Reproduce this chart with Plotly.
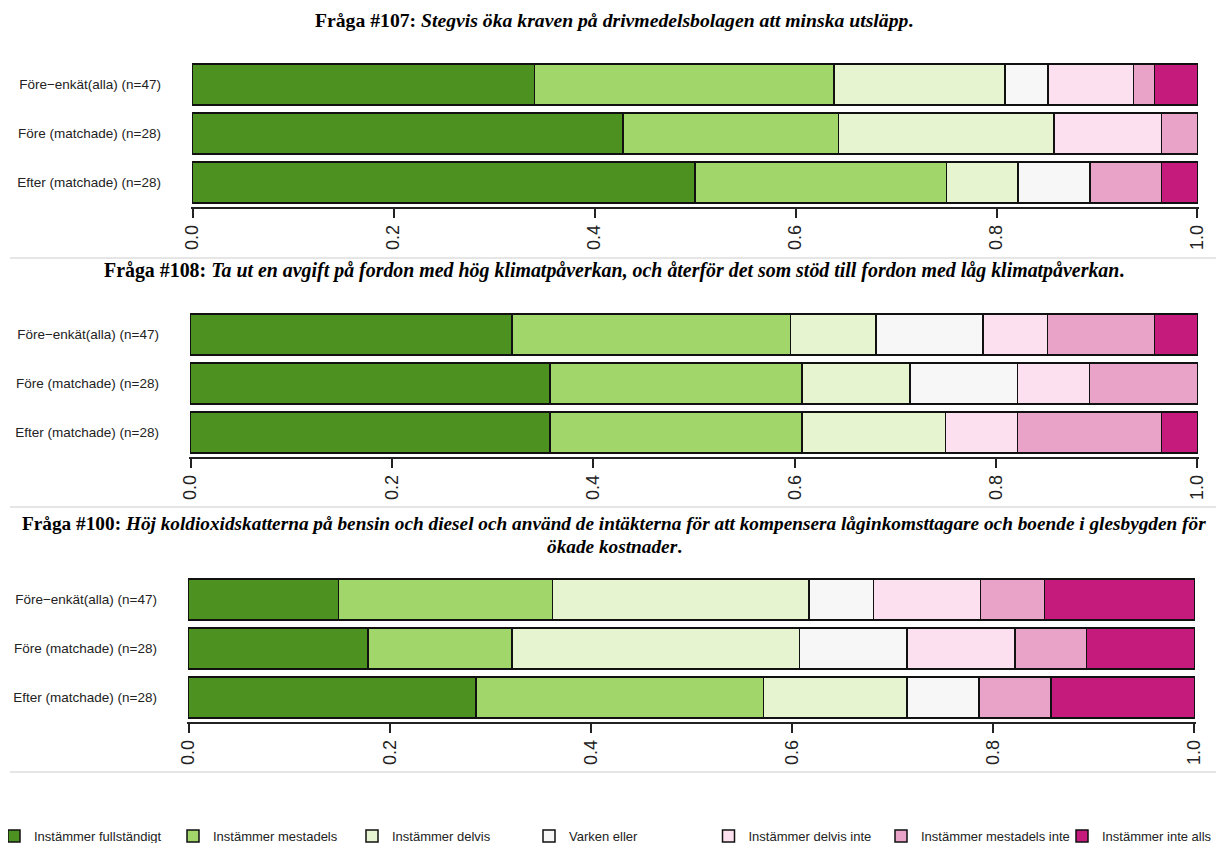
import plotly.graph_objects as go

# ---------------- data ----------------
categories = ["Instämmer fullständigt", "Instämmer mestadels", "Instämmer delvis",
              "Varken eller", "Instämmer delvis inte", "Instämmer mestadels inte",
              "Instämmer inte alls"]
colors = ["#4D9221", "#A1D76A", "#E6F5D0", "#F7F7F7", "#FDE0EF", "#E9A3C9", "#C51B7D"]
groups = ["Före−enkät(alla) (n=47)", "Före (matchade) (n=28)", "Efter (matchade) (n=28)"]
group_n = [47, 28, 28]

# counts per answer category, per group (alla, före, efter)
q107_counts = [[16, 12, 14], [14, 6, 7], [8, 6, 2], [2, 0, 2], [4, 3, 0], [1, 1, 2], [2, 0, 1]]
q108_counts = [[15, 10, 10], [13, 7, 7], [4, 3, 4], [5, 3, 0], [3, 2, 2], [5, 3, 4], [2, 0, 1]]
q100_counts = [[7, 5, 8], [10, 4, 8], [12, 8, 4], [3, 3, 2], [5, 3, 0], [3, 2, 2], [7, 3, 4]]

title_lines = [
    ["<b>Fråga #107: <i>Stegvis öka kraven på drivmedelsbolagen att minska utsläpp</i>.</b>"],
    ["<b>Fråga #108: <i>Ta ut en avgift på fordon med hög klimatpåverkan, och återför det som stöd till fordon med låg klimatpåverkan</i>.</b>"],
    ["<b>Fråga #100: <i>Höj koldioxidskatterna på bensin och diesel och använd de intäkterna för att kompensera låginkomsttagare och boende i glesbygden för</i></b>",
     "<b><i>ökade kostnader</i>.</b>"],
]
xticks = [0.0, 0.2, 0.4, 0.6, 0.8, 1.0]

# ---------------- layout geometry (screen pixels; page body has an 8px margin) ----------------
OFF = 8
FW, FH = 1229 - OFF, 843 - OFF


def fx(px):
    return (px - OFF) / FW


def fy(py):
    return 1 - (py - OFF) / FH


panels = [
    dict(counts=q107_counts, top=60, bottom=207, left=191, right=1199, title_y=[20], tsize=19.7, sep=258),
    dict(counts=q108_counts, top=310, bottom=457, left=189, right=1199, title_y=[270], tsize=19.9, sep=507),
    dict(counts=q100_counts, top=575, bottom=722, left=187, right=1196, title_y=[523, 546], tsize=19.3, sep=772),
]
# legend blocks: (first item index, last item index + 1, left x of first entry, entry width)
legend_blocks = [(0, 3, -14, 134), (3, 5, 521, 134.5), (5, 7, 873, 136)]

fig = go.Figure()
layout = dict(
    width=FW, height=FH, margin=dict(l=0, r=0, t=0, b=0, autoexpand=False),
    plot_bgcolor="white", paper_bgcolor="white", barmode="stack", bargap=0.16,
    showlegend=True,
)
annotations = []
shapes = []


def legend_name(c):
    for k, (a, b, _, _) in enumerate(legend_blocks):
        if a <= c < b:
            return "legend" if k == 0 else f"legend{k + 1}"


for i, p in enumerate(panels):
    ax = "" if i == 0 else str(i + 1)
    for c, cat in enumerate(categories):
        vals = [p["counts"][c][g] / group_n[g] for g in range(len(groups))]
        fig.add_trace(go.Bar(
            x=vals, y=groups, orientation="h", name=cat,
            marker=dict(color=colors[c], line=dict(color="#111111", width=1.5)),
            xaxis="x" + ax, yaxis="y" + ax, showlegend=(i == 0),
            legend=legend_name(c),
        ))
    layout["xaxis" + ax] = dict(
        domain=[fx(p["left"]), fx(p["right"])], range=[-0.0015, 1.0015], anchor="y" + ax,
        tickvals=xticks, ticktext=[f"{v:.1f}" for v in xticks], tickangle=-90,
        showline=True, linecolor="#222222", linewidth=1.5, ticks="outside",
        ticklen=9, tickwidth=1.5, tickcolor="#222222", showgrid=False, zeroline=False,
        automargin=False,
        tickfont=dict(family="Liberation Sans, Arial", size=18, color="#222222"),
    )
    layout["yaxis" + ax] = dict(
        domain=[fy(p["bottom"]), fy(p["top"])], anchor="x" + ax,
        categoryorder="array", categoryarray=groups, autorange=False, range=[2.5, -0.5],
        showline=False, ticks="", showgrid=False, zeroline=False, ticklabelstandoff=29,
        automargin=False,
        tickfont=dict(family="Liberation Sans, Arial", size=13.5, color="#222222"),
    )
    for line, ty in zip(title_lines[i], p["title_y"]):
        annotations.append(dict(
            text=line, x=fx(614), y=fy(ty), xref="paper", yref="paper",
            xanchor="center", yanchor="middle", showarrow=False,
            font=dict(family="Liberation Serif, Times New Roman", size=p["tsize"], color="black"),
        ))
    shapes.append(dict(type="line", xref="paper", yref="paper", x0=fx(10), x1=fx(1216),
                       y0=fy(p["sep"]), y1=fy(p["sep"]),
                       line=dict(color="#cccccc", width=1)))

layout["annotations"] = annotations
layout["shapes"] = shapes
legend_common = dict(
    orientation="h", yanchor="middle", y=fy(836), xanchor="left",
    entrywidthmode="pixels", traceorder="normal", itemwidth=30,
    bgcolor="rgba(0,0,0,0)",
    font=dict(family="Liberation Sans, Arial", size=13, color="#222222"),
)
for k, (a, b, lx, ew) in enumerate(legend_blocks):
    key = "legend" if k == 0 else f"legend{k + 1}"
    layout[key] = dict(legend_common, x=lx / FW, entrywidth=ew)
fig.update_layout(**layout)
fig.write_html("out.html")
